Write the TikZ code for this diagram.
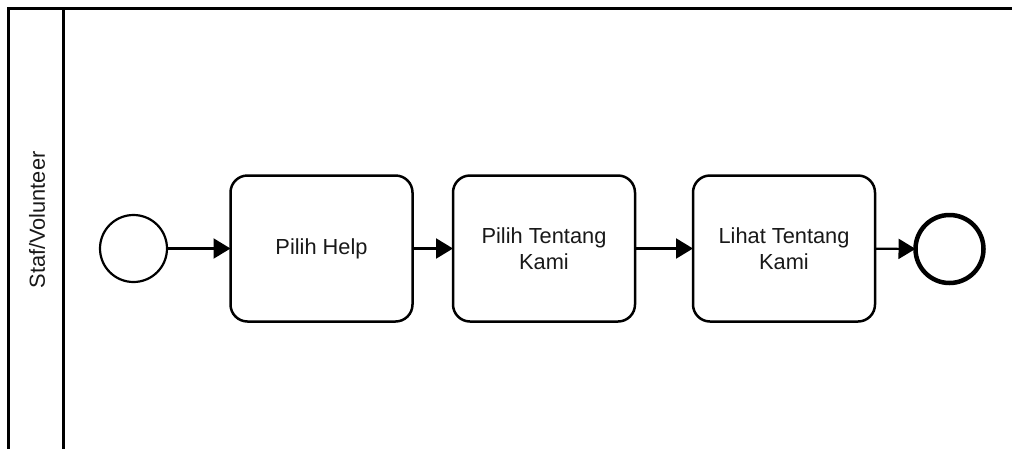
\documentclass[tikz,border=0pt]{standalone}
\usepackage{fontspec}
\setmainfont{Liberation Sans}
\usetikzlibrary{arrows.meta}
\begin{document}
\begin{tikzpicture}[x=1pt,y=-1pt,
  every node/.style={font=\fontsize{21.8}{26}\selectfont, text=black!90},
  task/.style={draw=black, line width=2.5pt, rounded corners=17pt, fill=white,
    minimum width=182pt, minimum height=146pt, align=center, inner sep=0pt, outer sep=0pt},
  startev/.style={draw=black, line width=2.2pt, circle, minimum size=67pt, inner sep=0pt, outer sep=0pt},
  endev/.style={draw=black, line width=4.5pt, circle, minimum size=68pt, inner sep=0pt, outer sep=0pt},
  flow/.style={line width=2.2pt, -{Triangle[length=17pt,width=20pt]}},
  poolline/.style={line width=3pt}
]
\useasboundingbox (0,0) rectangle (1012,448);
\fill[white] (0,0) rectangle (1012,448);

% pool border and lane header
\draw[poolline] (8.5,450) -- (8.5,8.5) -- (1014,8.5);
\draw[poolline] (63.5,8.5) -- (63.5,450);
\node[rotate=90] (lane) at (37,220) {Staf/Volunteer};

% events and tasks
\node[startev] (start) at (133.5,248.5) {};
\node[task] (t1) at (321.5,248.5) {Pilih Help};
\node[task] (t2) at (544,248.5) {Pilih Tentang\\Kami};
\node[task] (t3) at (784,248.5) {Lihat Tentang\\Kami};
\node[endev] (end) at (949.5,249) {};

% sequence flows
\draw[flow] (start) -- (t1);
\draw[flow] (t1) -- (t2);
\draw[flow] (t2) -- (t3);
\draw[flow] (t3) -- (end);
\end{tikzpicture}
\end{document}
